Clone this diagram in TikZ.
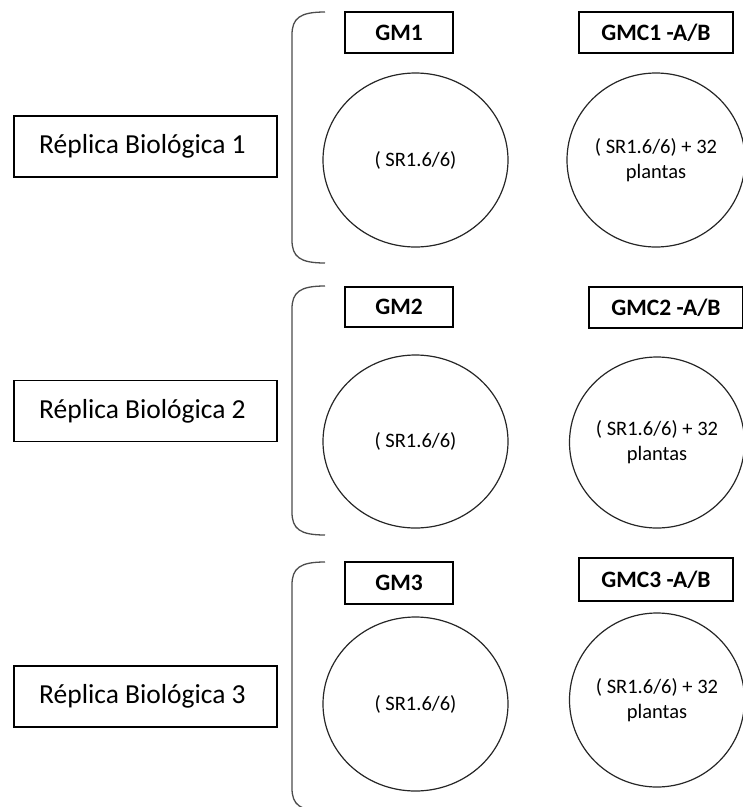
\documentclass[tikz,border=0pt]{standalone}
\usepackage{fontspec}
\setmainfont{Carlito}
\usetikzlibrary{shapes.geometric}
\begin{document}
\begin{tikzpicture}[x=1pt,y=-1pt,
  repbox/.style={draw=black,line width=1.3pt,minimum width=263pt,minimum height=61pt,inner sep=0pt,font=\fontsize{27.5}{30}\selectfont},
  lblbox/.style={draw=black,line width=1.4pt,minimum width=108pt,minimum height=41pt,inner sep=0pt,font=\fontsize{23.5}{26}\selectfont\bfseries},
  dish/.style={draw=black!85,line width=1.2pt,ellipse,minimum width=185pt,minimum height=174pt,inner sep=0pt,align=center,font=\fontsize{20.5}{25}\selectfont},
  bracket/.style={draw=black!70,line width=1.3pt}]
\useasboundingbox (0,0) rectangle (743,807);
% Replica boxes
\node[repbox] (r1) at (145.5,146.5) {\hspace*{-6pt}Réplica Biológica 1};
\node[repbox] (r2) at (145.5,411) {\hspace*{-6pt}Réplica Biológica 2};
\node[repbox] (r3) at (145.5,696.5) {\hspace*{-6pt}Réplica Biológica 3};
% Brackets
\draw[bracket] (325,12) .. controls (300,12) and (292,18) .. (292,35) -- (292,240) .. controls (292,257) and (300,263) .. (325,263);
\draw[bracket] (325,286) .. controls (300,286) and (292,292) .. (292,309) -- (292,512) .. controls (292,529) and (300,535) .. (325,535);
\draw[bracket] (325,562) .. controls (300,562) and (292,568) .. (292,585) -- (292,788) .. controls (292,805) and (300,811) .. (325,811);
% Labels
\node[lblbox] (gm1) at (399,32.5) {GM1};
\node[lblbox,minimum width=154pt] (gmc1) at (656,32.5) {GMC1 -A/B};
\node[lblbox,minimum height=40pt] (gm2) at (399,307) {GM2};
\node[lblbox,minimum width=154pt] (gmc2) at (666,307.5) {GMC2 -A/B};
\node[lblbox,minimum height=42pt] (gm3) at (399,583) {GM3};
\node[lblbox,minimum width=154pt,minimum height=43pt] (gmc3) at (656,579.5) {GMC3 -A/B};
% Dishes
\node[dish] (c1) at (415.5,160) {( SR1.6/6)};
\node[dish,minimum width=178pt] (c1b) at (656,160) {( SR1.6/6) + 32\\plantas};
\node[dish,minimum height=173pt] (c2) at (415.5,441.5) {( SR1.6/6)};
\node[dish,minimum width=175pt,minimum height=171pt] (c2b) at (657,442.5) {( SR1.6/6) + 32\\plantas};
\node[dish] (c3) at (415.5,704) {( SR1.6/6)};
\node[dish,minimum width=175pt] (c3b) at (657,700) {( SR1.6/6) + 32\\plantas};
\end{tikzpicture}
\end{document}
